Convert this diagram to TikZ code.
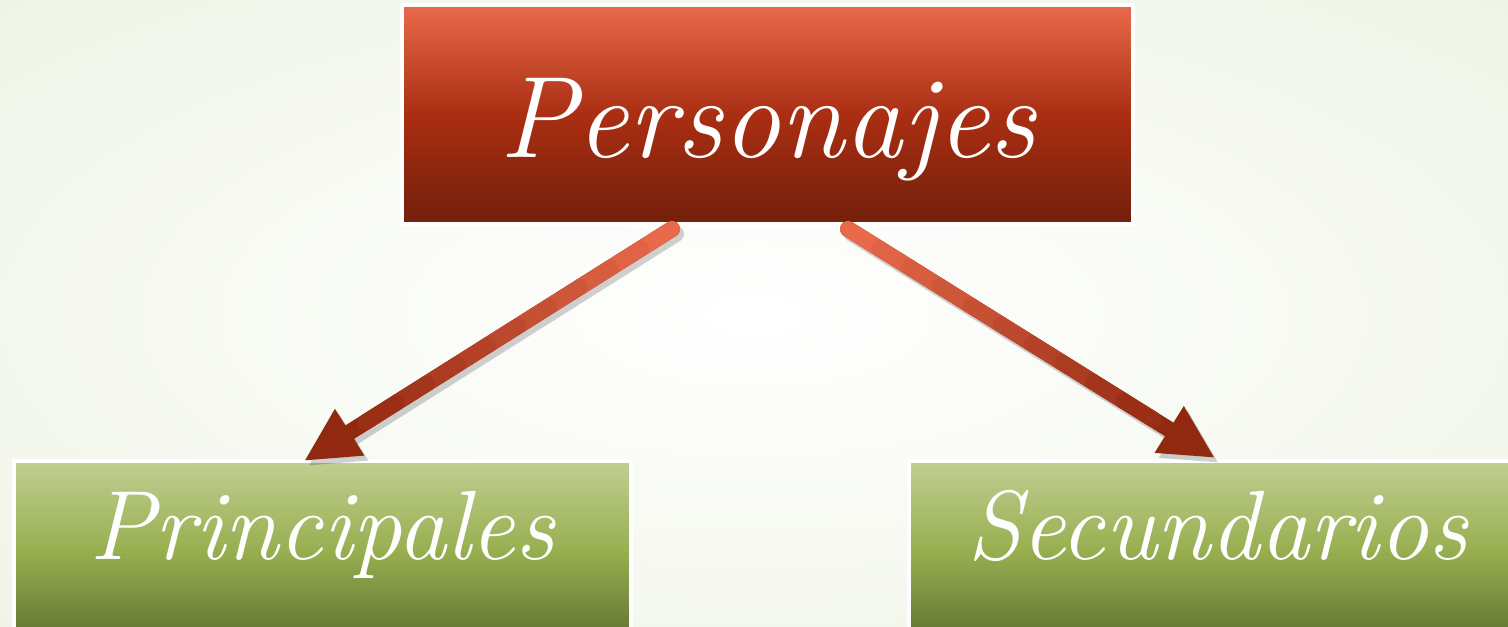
\documentclass[tikz,border=0pt]{standalone}
\usepackage{tikz}
\usetikzlibrary{arrows.meta,calc}
\definecolor{bgedge}{RGB}{234,240,222}
\definecolor{redtop}{RGB}{233,106,75}
\definecolor{redmid}{RGB}{170,46,18}
\definecolor{redbot}{RGB}{114,31,11}
\definecolor{greentop}{RGB}{192,207,146}
\definecolor{greenmid}{RGB}{152,175,80}
\definecolor{greenbot}{RGB}{98,114,50}
\definecolor{arrlight}{RGB}{232,106,74}
\definecolor{arrdark}{RGB}{145,40,16}

\begin{document}
\begin{tikzpicture}[x=0.1mm,y=-0.1mm]
\tikzstyle{box}=[rectangle, draw=white, line width=0.4mm, inner sep=0pt, text=white]
\tikzstyle{main}=[box, top color=redtop, bottom color=redbot, middle color=redmid, minimum width=73.1mm, minimum height=21.9mm, text height=8.7mm, text depth=0pt, font=\fontsize{33}{36}\selectfont\itshape]
\tikzstyle{sub}=[box, top color=greentop, bottom color=greenbot, middle color=greenmid, minimum width=61.7mm, minimum height=17.9mm, text height=1.9mm, text depth=0pt, font=\fontsize{28}{30}\selectfont\itshape]
\tikzstyle{connect}=[line width=1.6mm, line cap=round]
\tikzstyle{tip}=[-{Triangle[width=5.1mm,length=5.4mm]}]
  \useasboundingbox (0,0) rectangle (1508,627);
  \shade[inner color=white, outer color=bgedge] (-750,-300) rectangle (2258,930);
  \node[main] (pers) at (767.5,114.5) {Personajes};
  \node[sub] (prin) at (322,550.5) {Principales};
  \node[sub] (secu) at (1217.5,550.5) {Secundarios};
  \coordinate (a1) at ([xshift=-9.55mm,yshift=-0.3mm]pers.south);
  \coordinate (a2) at ([xshift=8.05mm,yshift=-0.3mm]pers.south);
  \coordinate (b1) at ([xshift=-1.8mm,yshift=-0.2mm]prin.north);
  \coordinate (b2) at ([xshift=-0.25mm,yshift=0.1mm]secu.north);
  \foreach \s/\e in {a1/b1, a2/b2} {
    \draw[connect, tip, black, opacity=0.18] ([shift={(0.4mm,-0.5mm)}]\s) -- ([shift={(0.4mm,-0.5mm)}]\e);
    \draw[connect, tip, arrdark] (\s) -- (\e);
    \foreach \i in {0,...,9}
      \draw[connect, arrdark!\i0!arrlight] ($(\s)!\i/12!(\e)$) -- ($(\s)!{(\i+1)/12}!(\e)$);
  }
\end{tikzpicture}
\end{document}
